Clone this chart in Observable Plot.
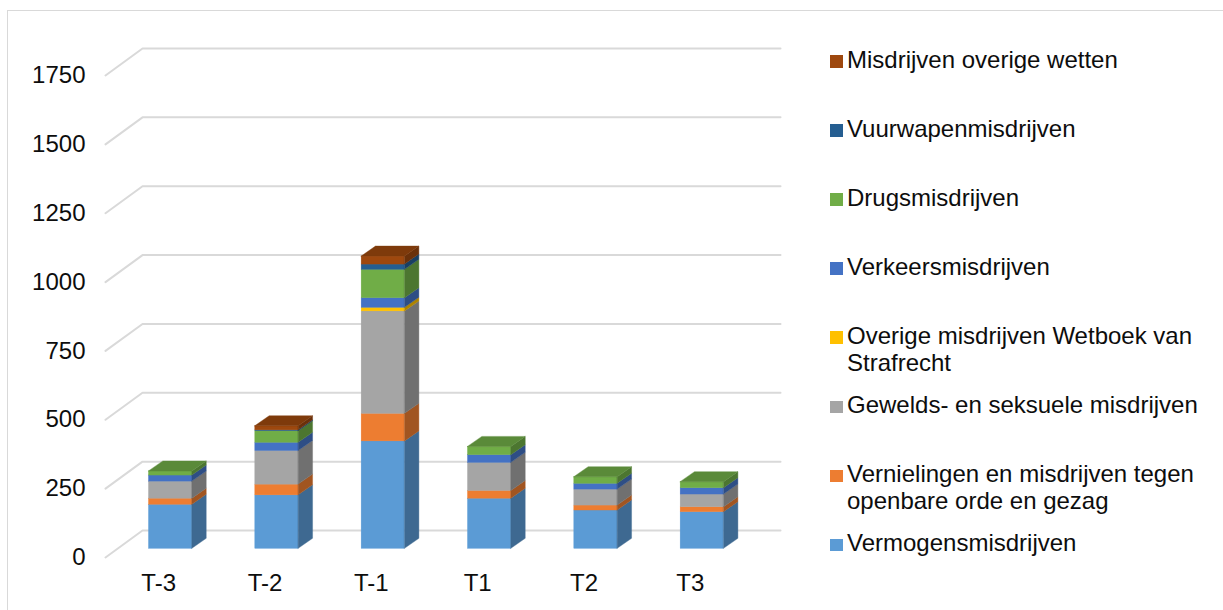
<!DOCTYPE html>
<html><head><meta charset="utf-8">
<script src="https://cdn.jsdelivr.net/npm/d3@7"></script>
<script src="https://cdn.jsdelivr.net/npm/@observablehq/plot@0.6"></script>
<style>
body{margin:0;background:#fff;font-family:"Liberation Sans",Arial,sans-serif;overflow:hidden;width:1223px;height:610px;position:relative;}
#frame{position:absolute;left:7px;top:10px;width:1230px;height:620px;border-left:1px solid #d9d9d9;border-top:1px solid #d9d9d9;}
#chart{position:absolute;left:0;top:0;}
#legend{position:absolute;left:830px;top:0;}
.item{position:absolute;left:0;white-space:pre;font-size:24px;line-height:26.7px;color:#0d0d0d;}
.sw{position:absolute;left:0;top:8.3px;width:12.5px;height:12.5px;}
.tx{position:absolute;left:17px;top:0;}
</style></head><body>
<div id="frame"></div><div id="chart"></div><div id="legend"></div>
<script>
// ---- data ----
const categories = ["T-3", "T-2", "T-1", "T1", "T2", "T3"];
const seriesNames = [
  "Vermogensmisdrijven",
  "Vernielingen en misdrijven tegen\nopenbare orde en gezag",
  "Gewelds- en seksuele misdrijven",
  "Overige misdrijven Wetboek van\nStrafrecht",
  "Verkeersmisdrijven",
  "Drugsmisdrijven",
  "Vuurwapenmisdrijven",
  "Misdrijven overige wetten"
];
const vermogens    = [160, 194, 390, 182, 139, 133];
const vernielingen = [22, 39, 100, 28, 18, 18];
const gewelds      = [62, 122, 372, 102, 58, 46];
const overigeWvS   = [0, 0, 13, 0, 0, 0];
const verkeers     = [22, 30, 35, 28, 21, 23];
const drugs        = [15, 42, 103, 30, 24, 22];
const vuurwapen    = [0, 3, 19, 0, 0, 0];
const overigeWet   = [0, 15, 29, 0, 0, 0];
const yTicks = [0, 250, 500, 750, 1000, 1250, 1500, 1750];
const colors = ["#5B9BD5", "#ED7D31", "#A5A5A5", "#FFC000", "#4472C4", "#70AD47", "#255E91", "#9E480E"];
const seriesValues = [vermogens, vernielingen, gewelds, overigeWvS, verkeers, drugs, vuurwapen, overigeWet];

// ---- 3D projection constants (in data units) ----
const FRONT = 31.6, DV = 36.3, DXF = 0.113, HALF = 0.204, DXD = 0.135, WALLDX = 0.348, WALLDV = 98;

function shade(c, f) { const r = d3.rgb(c); return d3.rgb(r.r * f, r.g * f, r.b * f).formatHex(); }

const fronts = [], sides = [], tops = [];
categories.forEach((cat, i) => {
  let cum = 0, top = null;
  seriesValues.forEach((vals, k) => {
    const v = vals[i];
    if (v > 0) {
      const seg = {i, k, lo: cum, hi: cum + v, color: colors[k]};
      const xl = i + 0.5 + DXF - HALF, xr = i + 0.5 + DXF + HALF;
      fronts.push({x1: xl, x2: xr, y1: seg.lo + FRONT, y2: seg.hi + FRONT, fill: colors[k]});
      const id = i + "-" + k;
      const sc = shade(colors[k], 0.68);
      sides.push({id, x: xr, y1: seg.lo + FRONT, y2: seg.hi + FRONT, fill: sc});
      sides.push({id, x: xr + DXD, y1: seg.lo + FRONT + DV, y2: seg.hi + FRONT + DV, fill: sc});
      top = {id, xl, xr, y: seg.hi + FRONT, fill: shade(colors[k], 0.8)};
    }
    cum += v;
  });
  if (top) {
    tops.push({id: top.id, y: top.y, x1: top.xl, x2: top.xr, fill: top.fill});
    tops.push({id: top.id, y: top.y + DV, x1: top.xl + DXD, x2: top.xr + DXD, fill: top.fill});
  }
});

const grid = [];
yTicks.forEach(v => {
  grid.push({v, x: 0, y: v});
  grid.push({v, x: WALLDX, y: v + WALLDV});
  grid.push({v, x: categories.length + WALLDX, y: v + WALLDV});
});

const plot = Plot.plot({
  width: 800,
  height: 610,
  x: {domain: [0, categories.length], range: [105, 743], axis: null},
  y: {domain: [0, 1750], range: [557, 75], axis: null},
  color: {type: "identity"},
  style: {background: "transparent", overflow: "visible", fontFamily: "Liberation Sans, Arial, sans-serif"},
  marks: [
    Plot.line(grid, {x: "x", y: "y", z: "v", stroke: "#d9d9d9", strokeWidth: 2}),
    Plot.rect(fronts, {x1: "x1", x2: "x2", y1: "y1", y2: "y2", fill: "fill", stroke: "fill", strokeWidth: 0.4}),
    Plot.areaY(sides, {x: "x", y1: "y1", y2: "y2", z: "id", fill: "fill", stroke: "fill", strokeWidth: 0.4}),
    Plot.areaX(tops, {y: "y", x1: "x1", x2: "x2", z: "id", fill: "fill", stroke: "fill", strokeWidth: 0.4}),
    Plot.text(yTicks, {x: () => 0, y: d => d, text: d => String(d), textAnchor: "end", dx: -20, fontSize: 24, fill: "#0d0d0d"}),
    Plot.text(categories, {x: (d, i) => i + 0.5, y: () => 0, text: d => d, dy: 26, fontSize: 24, fill: "#0d0d0d"})
  ]
});
document.getElementById("chart").appendChild(plot);

// ---- legend (reverse order, as in the reference) ----
const legend = document.getElementById("legend");
const order = seriesNames.map((n, k) => k).reverse();
order.forEach((k, j) => {
  const item = document.createElement("div");
  item.className = "item";
  item.style.top = (47 + j * 69.05) + "px";
  const sw = document.createElement("div");
  sw.className = "sw";
  sw.style.background = colors[k];
  const tx = document.createElement("div");
  tx.className = "tx";
  tx.textContent = seriesNames[k];
  item.appendChild(sw); item.appendChild(tx);
  legend.appendChild(item);
});
</script>
</body></html>
